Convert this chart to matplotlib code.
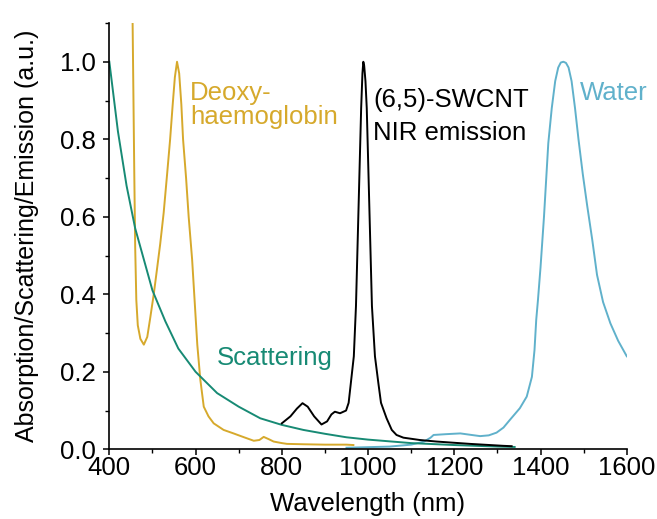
import matplotlib.pyplot as plt
from matplotlib.ticker import MultipleLocator

plt.rcParams['font.family'] = ['Liberation Sans', 'DejaVu Sans']

# Deoxy-haemoglobin absorption
hb_nm = [454, 456, 458, 460, 462.6, 466, 472, 480, 488, 495, 503, 510, 518, 526, 534, 541, 547, 552, 557,
         562, 567, 571, 578, 584, 592, 598, 604, 611, 619, 630, 642, 665, 688, 710, 735, 748, 758,
         770, 781, 800, 812, 850, 900, 950, 966]
hb_val = [1.1, 0.9, 0.7, 0.52, 0.385, 0.32, 0.285, 0.27, 0.29, 0.34, 0.40, 0.46, 0.53, 0.61, 0.71, 0.8, 0.89, 0.96, 1.0,
          0.97, 0.89, 0.8, 0.7, 0.6, 0.49, 0.38, 0.27, 0.18, 0.11, 0.085, 0.067, 0.05, 0.041, 0.032, 0.022, 0.024, 0.032,
          0.026, 0.02, 0.016, 0.014, 0.013, 0.012, 0.012, 0.011]

# Scattering
sc_nm = [400, 420, 440, 460, 480, 500, 530, 560, 600, 650, 700, 750, 800, 850, 900, 950,
         1000, 1100, 1200, 1300, 1340]
sc_val = [1.0, 0.82, 0.68, 0.57, 0.49, 0.41, 0.33, 0.26, 0.2, 0.145, 0.11, 0.08, 0.063, 0.05, 0.04, 0.031,
          0.025, 0.016, 0.011, 0.007, 0.006]

# (6,5)-SWCNT NIR emission
cnt_nm = [800, 820, 835, 848, 860, 875, 892, 905, 915, 923, 935, 949, 955, 961, 967, 972, 976, 980, 984,
          987, 989, 991, 994, 997, 1001, 1005, 1009, 1016, 1024, 1030, 1043, 1055, 1066, 1082, 1120, 1159,
          1236, 1313, 1333]
cnt_val = [0.067, 0.085, 0.105, 0.119, 0.11, 0.085, 0.064, 0.072, 0.09, 0.097, 0.093, 0.10, 0.12, 0.18, 0.24, 0.37,
           0.54, 0.71, 0.88, 0.97, 1.0, 0.99, 0.95, 0.88, 0.71, 0.54, 0.37, 0.24, 0.17, 0.12, 0.08, 0.05, 0.037,
           0.03, 0.024, 0.02, 0.014, 0.009, 0.008]

# Water absorption
w_nm = [950, 1050, 1100, 1130, 1145, 1152, 1180, 1214, 1240, 1260, 1280, 1298, 1314, 1329, 1352, 1368, 1380,
        1386, 1390, 1394, 1400, 1408, 1418, 1426, 1434, 1441, 1447, 1453, 1459, 1465, 1472, 1480, 1488,
        1498, 1508, 1520, 1531, 1545, 1562, 1580, 1600]
w_val = [0.004, 0.007, 0.012, 0.02, 0.03, 0.037, 0.039, 0.041, 0.037, 0.034, 0.036, 0.043, 0.056, 0.076, 0.106,
         0.136, 0.187, 0.256, 0.334, 0.385, 0.47, 0.6, 0.79, 0.88, 0.95, 0.985, 0.998, 1.0, 0.997, 0.985, 0.95,
         0.88, 0.8, 0.71, 0.63, 0.54, 0.45, 0.38, 0.325, 0.28, 0.24]

c_hb = '#D6A92C'
c_sc = '#178A74'
c_w = '#60B1CB'

fig = plt.figure(figsize=(6.57, 5.19), dpi=100)
ax = fig.add_axes([0.1664, 0.1343, 0.954 - 0.1664, 0.9557 - 0.1343])

ax.plot(w_nm, w_val, color=c_w, lw=1.4)
ax.plot(hb_nm, hb_val, color=c_hb, lw=1.4)
ax.plot(sc_nm, sc_val, color=c_sc, lw=1.4)
ax.plot(cnt_nm, cnt_val, color='black', lw=1.4)

ax.set_xlim(400, 1600)
ax.set_ylim(0, 1.1)
ax.xaxis.set_major_locator(MultipleLocator(200))
ax.xaxis.set_minor_locator(MultipleLocator(100))
ax.yaxis.set_major_locator(MultipleLocator(0.2))
ax.yaxis.set_minor_locator(MultipleLocator(0.1))
ax.yaxis.set_major_formatter(plt.FuncFormatter(lambda v, p: f'{v:.1f}'))
ax.spines['top'].set_visible(False)
ax.spines['right'].set_visible(False)
for s in ('left', 'bottom'):
    ax.spines[s].set_linewidth(1.2)
ax.tick_params(which='major', direction='out', length=4.5, width=1.1, labelsize=18.5)
ax.tick_params(axis='y', which='major', pad=5)
ax.tick_params(axis='x', which='major', pad=0.5)
ax.tick_params(which='minor', direction='out', length=3, width=1.0)

ax.set_xlabel('Wavelength (nm)', fontsize=18.5)
ax.set_ylabel('Absorption/Scattering/Emission (a.u.)', fontsize=18)
ax.xaxis.set_label_coords(0.5, -0.1)
ax.yaxis.set_label_coords(-0.136, 0.5)

ax.text(587, 0.901, 'Deoxy-', fontsize=18.5, color=c_hb, va='baseline', ha='left')
ax.text(587, 0.839, 'haemoglobin', fontsize=18.5, color=c_hb, va='baseline', ha='left')
ax.text(1012, 0.883, '(6,5)-SWCNT', fontsize=18.5, color='black', va='baseline', ha='left')
ax.text(1012, 0.798, 'NIR emission', fontsize=18.5, color='black', va='baseline', ha='left')
ax.text(1492, 0.901, 'Water', fontsize=18.5, color=c_w, va='baseline', ha='left')
ax.text(650, 0.218, 'Scattering', fontsize=18.5, color=c_sc, va='baseline', ha='left')

fig.savefig('out.png', dpi=100)
